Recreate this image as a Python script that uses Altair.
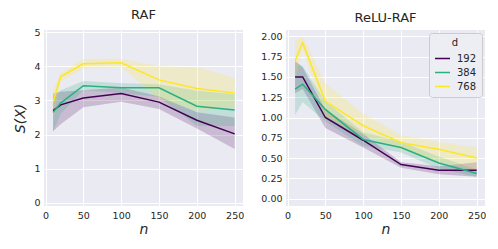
import altair as alt
import pandas as pd

n_vals = [10, 20, 50, 100, 150, 200, 250]
d_vals = ["192", "384", "768"]
colors = ["#440154", "#2ab07f", "#fde725"]

# RAF panel
raf_mean = {
    "192": [2.70, 2.87, 3.07, 3.20, 2.95, 2.42, 2.02],
    "384": [2.65, 2.92, 3.43, 3.37, 3.37, 2.83, 2.72],
    "768": [2.95, 3.70, 4.07, 4.10, 3.60, 3.35, 3.22],
}
raf_lo = {
    "192": [2.10, 2.30, 2.80, 2.96, 2.75, 2.18, 1.58],
    "384": [2.08, 2.60, 3.30, 3.22, 3.10, 2.25, 2.25],
    "768": [2.40, 3.55, 3.93, 3.97, 3.05, 2.70, 2.80],
}
raf_hi = {
    "192": [3.20, 3.25, 3.30, 3.38, 3.12, 2.65, 2.50],
    "384": [3.10, 3.30, 3.57, 3.50, 3.47, 3.28, 3.18],
    "768": [3.30, 3.80, 4.22, 4.22, 4.00, 3.97, 3.66],
}

# ReLU-RAF panel
relu_mean = {
    "192": [1.50, 1.50, 1.00, 0.72, 0.42, 0.35, 0.35],
    "384": [1.35, 1.41, 1.10, 0.73, 0.63, 0.44, 0.31],
    "768": [1.70, 1.92, 1.20, 0.90, 0.69, 0.61, 0.50],
}
relu_lo = {
    "192": [1.30, 1.35, 0.87, 0.63, 0.38, 0.30, 0.27],
    "384": [1.03, 1.19, 0.95, 0.65, 0.57, 0.37, 0.27],
    "768": [1.45, 1.85, 1.00, 0.78, 0.60, 0.45, 0.35],
}
relu_hi = {
    "192": [1.70, 1.62, 1.10, 0.80, 0.45, 0.40, 0.45],
    "384": [1.68, 1.63, 1.20, 0.82, 0.70, 0.52, 0.36],
    "768": [1.95, 2.00, 1.42, 1.05, 0.78, 0.70, 0.63],
}

raf_yticks = [0, 1, 2, 3, 4, 5]
relu_yticks = [0, 0.25, 0.5, 0.75, 1.0, 1.25, 1.5, 1.75, 2.0]
x_ticks = [0, 50, 100, 150, 200, 250]


def frame(mean, lo, hi):
    rows = []
    for d in d_vals:
        for i, n in enumerate(n_vals):
            rows.append({"n": n, "d": d, "m": mean[d][i], "lo": lo[d][i], "hi": hi[d][i]})
    return pd.DataFrame(rows)


FONT = "DejaVu Sans"
color_scale = alt.Scale(domain=d_vals, range=colors)


def panel(df, title, ydomain, yticks, ytitle, legend, label_fmt):
    xenc = alt.X(
        "n:Q",
        scale=alt.Scale(domain=[-2, 261], nice=False, zero=False),
        axis=alt.Axis(values=x_ticks, title="n",
                      titleFontStyle="italic", titleFontWeight="normal", titleFontSize=14,
                      titlePadding=3),
    )
    yscale = alt.Scale(domain=ydomain, nice=False, zero=False)
    if ytitle:
        yaxis = alt.Axis(values=yticks, title=ytitle, format=label_fmt, labelOverlap=False,
                         titleFontStyle="italic", titleFontWeight="normal", titleFontSize=14,
                         titlePadding=6)
    else:
        yaxis = alt.Axis(values=yticks, title=None, format=label_fmt, labelOverlap=False)
    if legend:
        leg = alt.Legend(
            title="d", orient="top-right", titleAnchor="middle", titleFontWeight="normal",
            titleFontSize=10, labelFontSize=10, symbolType="stroke", symbolSize=225,
            symbolStrokeWidth=1.5, symbolOpacity=1, fillColor="#ededf4", strokeColor="#cccccc",
            padding=5, cornerRadius=3, offset=3, rowPadding=0, labelColor="#262626",
            titleColor="#262626", titlePadding=2, labelOffset=6,
        )
        cenc = alt.Color("d:N", scale=color_scale, legend=leg)
    else:
        cenc = alt.Color("d:N", scale=color_scale, legend=None)
    band = alt.Chart(df).mark_area(opacity=0.2, clip=True).encode(
        x=xenc,
        y=alt.Y("lo:Q", scale=yscale, axis=yaxis),
        y2="hi:Q",
        color=cenc,
    )
    line = alt.Chart(df).mark_line(strokeWidth=1.5, clip=True).encode(
        x=xenc,
        y=alt.Y("m:Q", scale=yscale, axis=yaxis),
        color=cenc,
    )
    return alt.layer(band, line).properties(
        width=199, height=176,
        title=alt.TitleParams(title, fontSize=13, fontWeight="normal", font=FONT,
                              color="#262626", offset=5),
    )


left = panel(frame(raf_mean, raf_lo, raf_hi), "RAF", [-0.09, 5.06], raf_yticks, "S(X)", False, "d")
right = panel(frame(relu_mean, relu_lo, relu_hi), "ReLU-RAF", [-0.09, 2.078],
              relu_yticks, None, True, ".2f")

chart = alt.hconcat(left, right, spacing=16).resolve_scale(
    color="independent"
).resolve_legend(
    color="independent"
).configure(
    font=FONT, padding={"left": 5, "top": 1, "right": 0, "bottom": 0},
).configure_view(
    fill="#eaeaf2", stroke=None,
).configure_axis(
    grid=True, gridColor="white", gridWidth=1, domain=False, ticks=False,
    labelFont=FONT, labelFontSize=9.5, labelColor="#262626", labelPadding=4,
    titleFont=FONT, titleColor="#262626",
)

chart.save("out.html", embed_options={"renderer": "svg", "actions": False})
